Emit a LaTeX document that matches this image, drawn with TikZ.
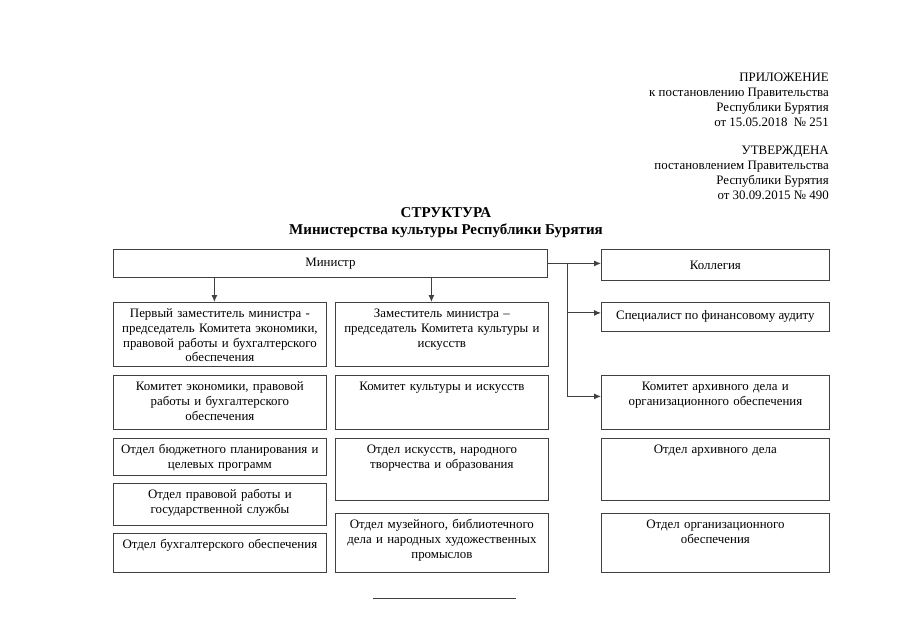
\documentclass[tikz,border=0pt]{standalone}
\usepackage{fontspec}
\setmainfont{Liberation Serif}
\usetikzlibrary{arrows.meta, positioning}

\definecolor{linegray}{HTML}{404040}
\newcommand{\boxfont}{\fontsize{12.9}{14.8}\selectfont}
\newcommand{\titlefont}{\fontsize{15}{17}\selectfont\bfseries}

\tikzset{
  unit/.style 2 args={draw=linegray, line width=0.8pt, anchor=north west, inner xsep=2pt, inner ysep=0pt,
    align=center, text width=#1, text height=15pt, text depth=#2},
  head/.style 2 args={draw=linegray, line width=0.8pt, anchor=north west, inner sep=0pt,
    minimum width=#1, minimum height=#2},
  arr/.style={draw=linegray, line width=1pt, -{Latex[length=7pt,width=6pt]}},
}

\begin{document}
\begin{tikzpicture}[x=1pt, y=-1pt, font=\boxfont]
        \useasboundingbox (0,0) rectangle (905,640);

        % Header
        \node[anchor=base east, align=right, inner sep=0pt] (appendix) at (829,126)
          {ПРИЛОЖЕНИЕ\\к постановлению Правительства\\Республики Бурятия\\от 15.05.2018~~№ 251};
        \node[anchor=base east, align=right, inner sep=0pt] (approved) at (829,199)
          {УТВЕРЖДЕНА\\постановлением Правительства\\Республики Бурятия\\от 30.09.2015 № 490};

        % Title
        \node[align=center, font=\titlefont, inner sep=0pt] (title) at (446,223)
          {СТРУКТУРА\\Министерства культуры Республики Бурятия};

        % Top row
        \node[head={434pt}{28pt}] (minister) at (113,249) {Министр};
        \node[head={228pt}{31pt}] (kollegia) at (601,249) {Коллегия};
        \node[head={228pt}{29pt}] (audit) at (601,302) {Специалист по финансовому аудиту};

        % Left column
        \node[unit={209pt}{49pt}] (first) at (113,302)
          {Первый заместитель министра -\\председатель Комитета экономики,\\правовой работы и бухгалтерского\\обеспечения};
        \node[unit={209pt}{39pt}] (komecon) at (113,375)
          {Комитет экономики, правовой\\работы и бухгалтерского\\обеспечения};
        \node[unit={209pt}{22pt}] (budget) at (113,438)
          {Отдел бюджетного планирования и\\целевых программ};
        \node[unit={209pt}{27pt}] (legal) at (113,483)
          {Отдел правовой работы и\\государственной службы};
        \node[unit={209pt}{24pt}] (account) at (113,533)
          {Отдел бухгалтерского обеспечения};

        % Middle column
        \node[unit={209pt}{49pt}] (deputy) at (335,302)
          {Заместитель министра –\\председатель Комитета культуры и\\искусств};
        \node[unit={209pt}{39pt}] (komcult) at (335,375)
          {Комитет культуры и искусств};
        \node[unit={209pt}{47pt}] (arts) at (335,438)
          {Отдел искусств, народного\\творчества и образования};
        \node[unit={209pt}{44pt}] (museum) at (335,513)
          {Отдел музейного, библиотечного\\дела и народных художественных\\промыслов};

        % Right column
        \node[unit={224pt}{39pt}] (komarch) at (601,375)
          {Комитет архивного дела и\\организационного обеспечения};
        \node[unit={224pt}{47pt}] (archive) at (601,438)
          {Отдел архивного дела};
        \node[unit={224pt}{44pt}] (orgdept) at (601,513)
          {Отдел организационного\\обеспечения};

        % Links
        \coordinate (a1) at ([xshift=-5.5pt]first.north);
        \coordinate (a2) at ([xshift=-10.5pt]deputy.north);
        \draw[arr] (minister.south -| a1) -- (a1);
        \draw[arr] (minister.south -| a2) -- (a2);
        \draw[arr] (minister.east) -- (minister.east -| kollegia.west);
        \coordinate (fork) at (567,263);
        \draw[arr] (fork) |- ([yshift=4pt]audit.west);
        \draw[arr] (fork) |- ([yshift=6pt]komarch.west);

        % Footnote rule
        \draw[linegray, line width=0.8pt] (373,598) -- (516,598);
    \end{tikzpicture}
\end{document}
